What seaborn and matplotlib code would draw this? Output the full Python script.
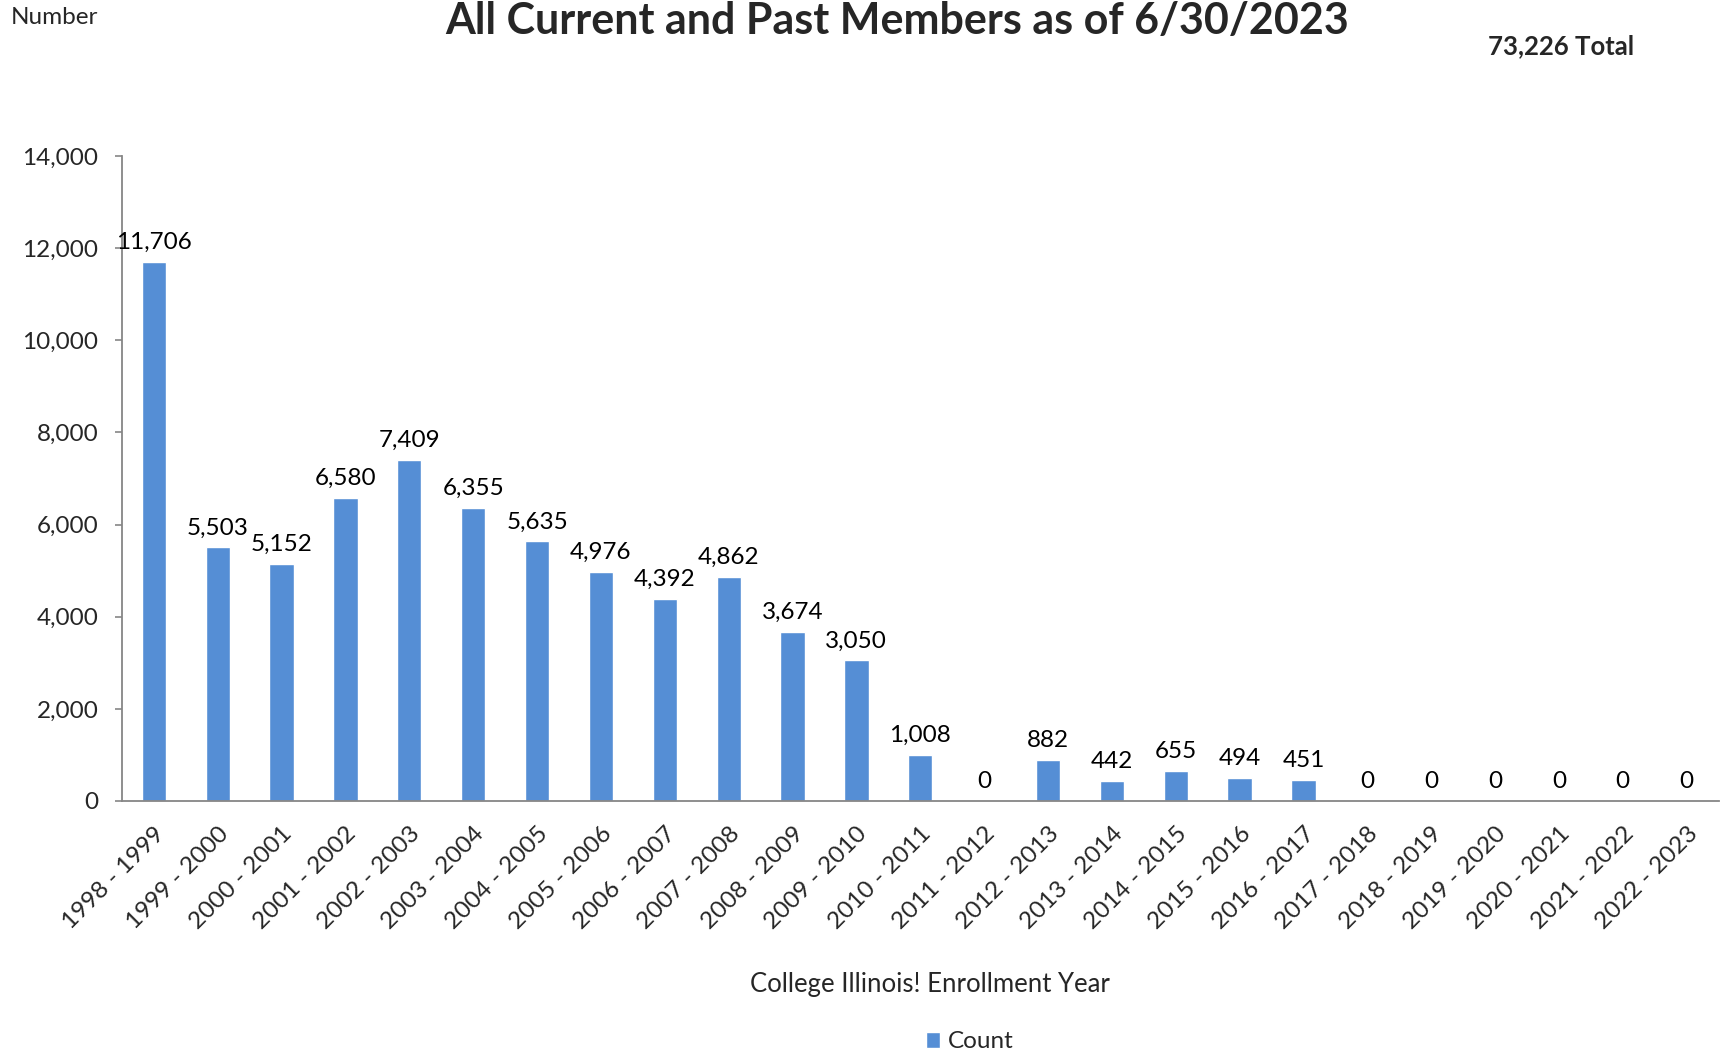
import matplotlib
matplotlib.use("Agg")
import matplotlib.pyplot as plt
import seaborn as sns
import pandas as pd
import numpy as np

# enrollment years and member counts
years = ['1998 - 1999', '1999 - 2000', '2000 - 2001', '2001 - 2002', '2002 - 2003',
         '2003 - 2004', '2004 - 2005', '2005 - 2006', '2006 - 2007', '2007 - 2008',
         '2008 - 2009', '2009 - 2010', '2010 - 2011', '2011 - 2012', '2012 - 2013',
         '2013 - 2014', '2014 - 2015', '2015 - 2016', '2016 - 2017', '2017 - 2018',
         '2018 - 2019', '2019 - 2020', '2020 - 2021', '2021 - 2022', '2022 - 2023']
counts = [11706, 5503, 5152, 6580, 7409, 6355, 5635, 4976, 4392, 4862,
          3674, 3050, 1008, 0, 882, 442, 655, 494, 451, 0, 0, 0, 0, 0, 0]
yticks = [0, 2000, 4000, 6000, 8000, 10000, 12000, 14000]

df = pd.DataFrame({'year': years, 'count': counts})

sns.set_theme(style='white')
plt.rcParams['font.family'] = ['Lato', 'DejaVu Sans']

fig = plt.figure(figsize=(17.22, 10.57), dpi=100)
ax = fig.add_axes([0.0708, 0.2422, 0.9272, 0.6102])

sns.barplot(data=df, x='year', y='count', color='#558ED5', width=0.38,
            label='Count', ax=ax, saturation=1)

# data labels
for i, v in enumerate(counts):
    ax.annotate(f'{v:,}', (i, v), xytext=(0, 14), textcoords='offset points',
                ha='center', va='center', fontsize=17.5, color='black')

ax.set_xlim(-0.5, len(years) - 0.5)
ax.set_ylim(0, 14000)
ax.set_yticks(yticks)
ax.set_yticklabels([f'{t:,}' for t in yticks], fontsize=17.5)

# category boundaries as ticks
ax.set_xticks(np.arange(len(years)) + 0.5, minor=True)
ax.tick_params(axis='x', which='minor', length=7, width=1.2, color='#868686', direction='out')
ax.tick_params(axis='x', which='major', length=0, pad=16)
ax.tick_params(axis='y', length=5, width=1.2, color='#868686', direction='out', pad=12, left=True)
ax.set_xticks(np.arange(len(years)))
ax.set_xticklabels(years, rotation=45, ha='right', rotation_mode='anchor', fontsize=17.5)

for s in ['top', 'right']:
    ax.spines[s].set_visible(False)
for s in ['left', 'bottom']:
    ax.spines[s].set_color('#868686')
    ax.spines[s].set_linewidth(1.3)

ax.set_ylabel('')
ax.set_xlabel('College Illinois! Enrollment Year', fontsize=18.5)
ax.xaxis.set_label_coords(0.506, -0.284)
ax.xaxis.label.set_va('center')

fig.text(0.521, 0.968, 'All Current and Past Members as of 6/30/2023',
         ha='center', va='baseline', fontsize=31, fontweight='bold')
fig.text(0.0064, 0.977, 'Number', ha='left', va='baseline', fontsize=17.5)
fig.text(0.949, 0.949, '73,226 Total', ha='right', va='baseline',
         fontsize=18.5, fontweight='bold')

h, l = ax.get_legend_handles_labels()
ax.legend(h, l, loc='center', bbox_to_anchor=(0.563, 0.0142),
          bbox_transform=fig.transFigure, frameon=False, fontsize=17.5,
          handlelength=0.6, handleheight=0.6, handletextpad=0.3)

plt.savefig('out.png', dpi=100)
